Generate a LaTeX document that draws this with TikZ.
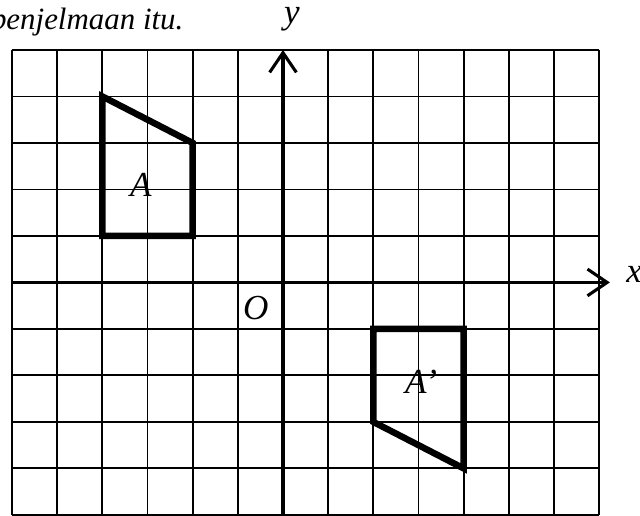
\documentclass[tikz,border=0pt]{standalone}
\usepackage{fontspec}
\setmainfont{Liberation Serif}
\usetikzlibrary{arrows.meta}

\tikzset{
  gridline/.style={line width=1.3pt},
  axisline/.style={line width=2.3pt, -{Straight Barb[length=14pt, width=19pt, line width=2.2pt]}},
  shapeline/.style={line width=4.6pt},
  lab/.style={font=\fontsize{25}{25}\selectfont\itshape, inner sep=0pt, anchor=base},
}

\begin{document}
\begin{tikzpicture}[x={(1.129cm,0)}, y={(0,1.1625cm)}]
  %% 画面の大きさ
  \useasboundingbox (-6.268, -5.022) rectangle (7.907, 6.075);
  \clip (-6.268, -5.022) rectangle (7.907, 6.075);

  %% 問題文の続き
  \node[font=\fontsize{22}{22}\selectfont\itshape, inner sep=0pt, anchor=base east] (txt)
    at (-2.2, 5.43) {penjelmaan itu.};

  %% 方眼
  \foreach \xpos in {-6,...,7} {
    \draw[gridline] (\xpos, -5) -- (\xpos, 5);
  }
  \foreach \ypos in {-5,...,5} {
    \draw[gridline] (-6, \ypos) -- (7, \ypos);
  }

  %% 座標軸
  \coordinate (xl) at (-6, 0);
  \coordinate (xr) at (7.24, 0);
  \coordinate (yb) at (0, -5);
  \coordinate (yt) at (0, 5);
  \draw[axisline] (xl) -- (xr);
  \draw[axisline] (yb) -- (yt);
  \node[lab, anchor=base west] (xlab) at (7.6, -0.01) {x};
  \node[lab] (ylab) at (0.2, 5.58) {y};
  \node[lab] (orig) at (-0.6, -0.79) {O};

  %% 図形 A と像 A'
  \draw[shapeline] (-4, 4) -- (-2, 3) -- (-2, 1) -- (-4, 1) -- cycle;
  \draw[shapeline] (2, -1) -- (4, -1) -- (4, -4) -- (2, -3) -- cycle;
  \node[lab] (labA) at (-3.15, 1.84) {A};
  \node[lab] (labAp) at (3.06, -2.38) {A’};
\end{tikzpicture}
\end{document}
